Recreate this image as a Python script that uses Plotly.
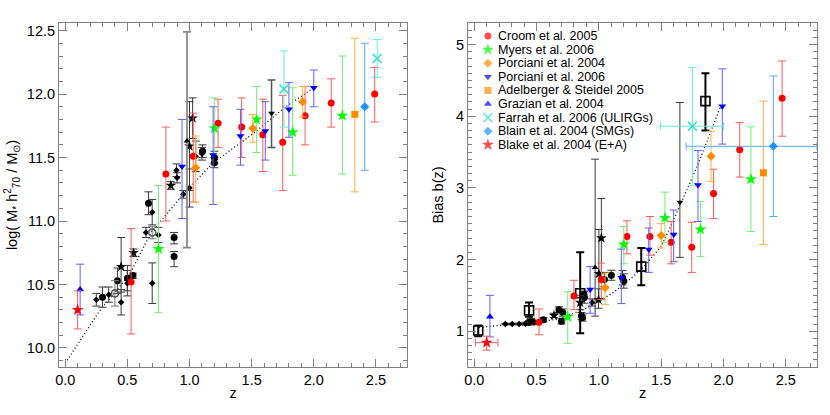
import plotly.graph_objects as go

# ---------------- DATA ----------------
# Croom et al. 2005 (red circles)
croom_z_m = [0.53, 0.81, 1.03, 1.23, 1.42, 1.59, 1.75, 1.93, 2.14, 2.49]
croom_m = [10.52, 11.37, 11.51, 11.77, 11.74, 11.68, 11.62, 11.83, 11.93, 12.00]
croom_m_lo = [0.41, 0.37, 0.36, 0.19, 0.24, 0.29, 0.38, 0.23, 0.19, 0.22]
croom_m_hi = [0.42, 0.37, 0.34, 0.19, 0.23, 0.28, 0.37, 0.23, 0.19, 0.21]
croom_z_b = [0.52, 0.80, 1.02, 1.225, 1.41, 1.58, 1.745, 1.92, 2.13, 2.47]
croom_b = [1.125, 1.49, 1.72, 2.32, 2.32, 2.24, 2.17, 2.92, 3.53, 4.25]
croom_b_lo = [0.175, 0.19, 0.28, 0.24, 0.26, 0.30, 0.35, 0.35, 0.38, 0.53]
croom_b_hi = [0.185, 0.22, 0.23, 0.22, 0.28, 0.29, 0.35, 0.34, 0.38, 0.52]

# Myers et al. 2006 (green stars)
myers_z_m = [0.75, 1.20, 1.54, 1.83, 2.23]
myers_m = [10.78, 11.73, 11.80, 11.70, 11.83]
myers_m_lo = [0.50, 0.20, 0.26, 0.34, 0.46]
myers_m_hi = [0.50, 0.24, 0.26, 0.35, 0.47]
myers_z_b = [0.75, 1.20, 1.53, 1.815, 2.22]
myers_b = [1.20, 2.21, 2.58, 2.42, 3.12]
myers_b_lo = [0.37, 0.27, 0.34, 0.38, 0.73]
myers_b_hi = [0.35, 0.25, 0.36, 0.39, 0.73]

# Porciani et al. 2004 (orange diamonds)
porc04_z_m = [1.05, 1.51, 1.91]
porc04_m = [11.42, 11.73, 11.94]
porc04_m_lo = [0.27, 0.11, 0.12]
porc04_m_hi = [0.25, 0.11, 0.12]
porc04_z_b = [1.05, 1.50, 1.90]
porc04_b = [1.605, 2.335, 3.44]
porc04_b_lo = [0.235, 0.175, 0.35]
porc04_b_hi = [0.205, 0.165, 0.35]

# Porciani et al. 2006 (blue down triangles)
porc06_z_m = [0.94, 1.19, 1.41, 1.61, 1.80, 2.00]
porc06_m = [11.43, 11.52, 11.67, 11.71, 11.88, 12.05]
porc06_m_lo = [0.41, 0.39, 0.23, 0.23, 0.22, 0.15]
porc06_m_hi = [0.37, 0.38, 0.21, 0.23, 0.21, 0.14]
porc06_z_b = [0.93, 1.18, 1.40, 1.60, 1.795, 1.99]
porc06_b = [1.58, 1.745, 2.14, 2.35, 3.04, 4.14]
porc06_b_lo = [0.33, 0.36, 0.32, 0.38, 0.51, 0.53]
porc06_b_hi = [0.32, 0.40, 0.30, 0.34, 0.48, 0.52]

# Adelberger & Steidel 2005 (orange square)
adel_z_m = [2.33]
adel_m = [11.84]
adel_m_lo = [0.61]
adel_m_hi = [0.60]
adel_z_b = [2.32]
adel_b = [3.21]
adel_b_lo = [1.00]
adel_b_hi = [1.00]

# Grazian et al. 2004 (blue triangle)
graz_z_m = [0.12]
graz_m = [10.46]
graz_m_lo = [0.20]
graz_m_hi = [0.20]
graz_z_b = [0.126]
graz_b = [1.20]
graz_b_lo = [0.28]
graz_b_hi = [0.30]

# Farrah et al. 2006 (ULIRGs)
farr_z_m = [1.76, 2.51]
farr_m = [12.04, 12.28]
farr_m_lo = [0.30, 0.15]
farr_m_hi = [0.30, 0.15]
farr_z_b = [1.75]
farr_b = [3.86]
farr_b_lo = [0.83]
farr_b_hi = [0.82]
farr_zerr_lo = [0.255]
farr_zerr_hi = [0.25]

# Blain et al. 2004 (SMGs)
blain_z_m = [2.41]
blain_m = [11.90]
blain_m_lo = [0.50]
blain_m_hi = [0.50]
blain_z_b = [2.40]
blain_b = [3.58]
blain_b_lo = [0.98]
blain_b_hi = [0.98]
blain_zerr_lo = [0.70]
blain_zerr_hi = [0.70]

# Blake et al. 2004 (E+A)
blake_z_m = [0.10]
blake_m = [10.30]
blake_m_lo = [0.15]
blake_m_hi = [0.15]
blake_z_b = [0.10]
blake_b = [0.84]
blake_b_lo = [0.105]
blake_b_hi = [0.09]
blake_zerr_lo = [0.09]
blake_zerr_hi = [0.09]

# Black comparison samples, left panel (stellar mass)
bkm_circ_z = [0.30, 0.42, 0.50, 0.545, 0.67, 0.876, 0.876, 1.105, 1.20, 1.20]
bkm_circ_m = [10.40, 10.53, 10.55, 10.57, 11.14, 10.87, 10.72, 11.55, 11.50, 11.46]
bkm_circ_lo = [0.08, 0.10, 0.10, 0.02, 0.09, 0.05, 0.08, 0.05, 0.05, 0.04]
bkm_circ_hi = [0.08, 0.10, 0.10, 0.02, 0.09, 0.04, 0.04, 0.05, 0.05, 0.04]
bkm_small_z = [0.25, 0.35, 0.45, 0.50, 0.65, 0.70, 0.75, 0.70, 0.895, 0.90, 0.95, 1.00, 1.05, 1.10]
bkm_small_m = [10.38, 10.42, 10.36, 10.51, 10.91, 11.07, 10.89, 10.51, 11.40, 11.34, 11.21, 11.26, 11.51, 11.53]
bkm_small_lo = [0.05, 0.06, 0.10, 0.10, 0.04, 0.10, 0.06, 0.16, 0.05, 0.04, 0.03, 0.15, 0.12, 0.05]
bkm_small_hi = [0.05, 0.06, 0.10, 0.10, 0.04, 0.10, 0.06, 0.16, 0.05, 0.04, 0.03, 0.15, 0.12, 0.05]
bkm_star_z = [0.45, 0.55, 0.85, 1.00, 1.025]
bkm_star_m = [10.64, 10.75, 11.28, 11.59, 11.81]
bkm_star_lo = [0.20, 0.03, 0.03, 0.35, 0.16]
bkm_star_hi = [0.23, 0.03, 0.03, 0.35, 0.16]
bkm_tri_z = [0.98]
bkm_tri_m = [11.63]
bkm_tri_lo = [0.84]
bkm_tri_hi = [0.86]
bkm_tridn_z = [1.66]
bkm_tridn_m = [11.85]
bkm_tridn_lo = [0.27]
bkm_tridn_hi = [0.26]
bkm_open_z = [0.40, 0.70]
bkm_open_m = [10.43, 10.91]
bkm_open_lo = [0.10, 0.05]
bkm_open_hi = [0.10, 0.05]

# Black comparison samples, right panel (bias)
bkb_circ_z = [0.44, 0.555, 0.68, 0.71, 0.70, 0.86, 0.87, 0.884, 0.88, 1.045, 1.10, 1.19, 1.20]
bkb_circ_b = [1.12, 1.16, 1.30, 1.26, 1.14, 1.21, 1.19, 1.47, 1.51, 1.72, 1.78, 1.745, 1.70]
bkb_circ_lo = [0.03, 0.03, 0.04, 0.05, 0.04, 0.05, 0.05, 0.08, 0.05, 0.10, 0.07, 0.10, 0.10]
bkb_circ_hi = [0.03, 0.03, 0.04, 0.05, 0.04, 0.05, 0.05, 0.08, 0.05, 0.10, 0.07, 0.10, 0.10]
bkb_small_z = [0.25, 0.305, 0.36, 0.41, 0.48, 0.946]
bkb_small_b = [1.10, 1.10, 1.10, 1.105, 1.12, 1.40]
bkb_small_lo = [0.01, 0.01, 0.01, 0.02, 0.03, 0.05]
bkb_small_hi = [0.01, 0.01, 0.01, 0.02, 0.03, 0.05]
bkb_star_z = [0.456, 0.64, 0.85, 0.997, 1.00, 1.02]
bkb_star_b = [1.15, 1.22, 1.40, 1.44, 1.80, 2.30]
bkb_star_lo = [0.03, 0.03, 0.10, 0.12, 0.36, 0.50]
bkb_star_hi = [0.03, 0.03, 0.10, 0.15, 0.62, 0.55]
bkb_tri_z = [0.97]
bkb_tri_b = [1.89]
bkb_tri_lo = [0.68]
bkb_tri_hi = [1.51]
bkb_tridn_z = [1.65]
bkb_tridn_b = [2.80]
bkb_tridn_lo = [0.77]
bkb_tridn_hi = [1.39]
bkb_sq_z = [0.032, 0.44, 0.85, 1.34, 1.855]
bkb_sq_b = [1.01, 1.29, 1.53, 1.90, 4.21]
bkb_sq_lo = [0.08, 0.09, 0.56, 0.26, 0.41]
bkb_sq_hi = [0.07, 0.11, 0.57, 0.26, 0.39]

# Dotted model curves
model_m_z = [0.0, 0.275, 0.52, 0.69, 0.95, 1.19, 1.515, 1.76, 2.0]
model_m = [9.88, 10.29, 10.58, 10.91, 11.21, 11.46, 11.69, 11.89, 12.05]
model_b_z = [0.04, 0.2, 0.5, 0.7, 0.9, 1.0, 1.1, 1.2, 1.35, 1.5, 1.65, 1.8, 1.98]
model_b = [1.05, 1.08, 1.12, 1.18, 1.32, 1.42, 1.52, 1.65, 1.88, 2.18, 2.75, 3.35, 4.15]

legend_labels = ["Croom et al. 2005", "Myers et al. 2006", "Porciani et al. 2004",
                 "Porciani et al. 2006", "Adelberger & Steidel 2005", "Grazian et al. 2004",
                 "Farrah et al. 2006 (ULIRGs)", "Blain et al. 2004 (SMGs)", "Blake et al. 2004 (E+A)"]

Z_RANGE = [-0.05, 2.75]
M_RANGE = [9.85, 12.56]
B_RANGE = [0.5, 5.3]

# ---------------- STYLE ----------------
FONT = "Liberation Sans, Arial, Helvetica, sans-serif"
styles = {
    "croom": dict(symbol="circle", size=7, color="#ff0000", ecol="#ff5a5a"),
    "myers": dict(symbol="star", size=9, color="#00ff00", ecol="#70f070"),
    "porc04": dict(symbol="diamond", size=7, color="#ff8c00", ecol="#ffb040"),
    "porc06": dict(symbol="triangle-down", size=7, color="#0000ff", ecol="#6060ff"),
    "adel": dict(symbol="square", size=7, color="#ff8c00", ecol="#ffb040"),
    "graz": dict(symbol="triangle-up", size=7, color="#0000ff", ecol="#6060ff"),
    "farr": dict(symbol="x-thin-open", size=9, color="#30e0c8", ecol="#60f0d8"),
    "blain": dict(symbol="diamond", size=7, color="#1e90ff", ecol="#60a8ff"),
    "blake": dict(symbol="star", size=9, color="#ff0000", ecol="#ff5a5a"),
}
order = ["croom", "myers", "porc04", "porc06", "adel", "graz", "farr", "blain", "blake"]

fig = go.Figure()


def add(x, y, lo, hi, st, xa, ya, xlo=None, xhi=None, msym=None, msize=None,
        mcol=None, ecol=None, ethick=1.0):
    sym = msym or st["symbol"]
    marker = dict(symbol=sym, size=msize or st["size"], color=mcol or st["color"])
    if sym.endswith("-open"):
        marker["line"] = dict(width=1.6, color=mcol or st["color"])
    else:
        marker["line"] = dict(width=0)
    tr = dict(x=x, y=y, mode="markers", marker=marker, xaxis=xa, yaxis=ya,
              showlegend=False, hoverinfo="skip", cliponaxis=True,
              error_y=dict(type="data", symmetric=False, array=hi, arrayminus=lo,
                           color=ecol or st["ecol"], thickness=ethick, width=4))
    if xlo is not None:
        # keep horizontal bars inside the frame
        xhi_c = [min(h, Z_RANGE[1] - xv) for h, xv in zip(xhi, x)]
        xlo_c = [min(l, xv - Z_RANGE[0]) for l, xv in zip(xlo, x)]
        tr["error_x"] = dict(type="data", symmetric=False, array=xhi_c, arrayminus=xlo_c,
                             color=ecol or st["ecol"], thickness=ethick, width=4)
    fig.add_trace(go.Scatter(**tr))


DOT = dict(color="black", width=1.3, dash="1px,2.5px")
fig.add_trace(go.Scatter(x=model_m_z, y=model_m, mode="lines", xaxis="x", yaxis="y",
                         line=DOT, showlegend=False, hoverinfo="skip"))
fig.add_trace(go.Scatter(x=model_b_z, y=model_b, mode="lines", xaxis="x2", yaxis="y2",
                         line=DOT, showlegend=False, hoverinfo="skip"))

black = dict(symbol="circle", size=7, color="#000000", ecol="#3a3a3a")
# black samples left
add(bkm_circ_z, bkm_circ_m, bkm_circ_lo, bkm_circ_hi, black, "x", "y")
add(bkm_small_z, bkm_small_m, bkm_small_lo, bkm_small_hi, black, "x", "y", msym="diamond", msize=5)
add(bkm_star_z, bkm_star_m, bkm_star_lo, bkm_star_hi, black, "x", "y", msym="star", msize=8)
add(bkm_tri_z, bkm_tri_m, bkm_tri_lo, bkm_tri_hi, black, "x", "y", msym="triangle-up", msize=6,
    ecol="#8a8a8a", ethick=1.8)
add(bkm_tridn_z, bkm_tridn_m, bkm_tridn_lo, bkm_tridn_hi, black, "x", "y", msym="triangle-down",
    msize=6, ecol="#555555", ethick=1.5)
add(bkm_open_z, bkm_open_m, bkm_open_lo, bkm_open_hi, black, "x", "y", msym="circle-open",
    msize=7, mcol="#555555", ecol="#777777")
# black samples right
add(bkb_circ_z, bkb_circ_b, bkb_circ_lo, bkb_circ_hi, black, "x2", "y2")
add(bkb_small_z, bkb_small_b, bkb_small_lo, bkb_small_hi, black, "x2", "y2", msym="diamond", msize=5)
add(bkb_star_z, bkb_star_b, bkb_star_lo, bkb_star_hi, black, "x2", "y2", msym="star", msize=8)
add(bkb_tri_z, bkb_tri_b, bkb_tri_lo, bkb_tri_hi, black, "x2", "y2", msym="triangle-up", msize=6)
add(bkb_tridn_z, bkb_tridn_b, bkb_tridn_lo, bkb_tridn_hi, black, "x2", "y2", msym="triangle-down", msize=6)
add(bkb_sq_z, bkb_sq_b, bkb_sq_lo, bkb_sq_hi, black, "x2", "y2", msym="square-open", msize=9,
    mcol="#000000", ecol="#000000", ethick=2)

left = {
    "croom": (croom_z_m, croom_m, croom_m_lo, croom_m_hi),
    "myers": (myers_z_m, myers_m, myers_m_lo, myers_m_hi),
    "porc04": (porc04_z_m, porc04_m, porc04_m_lo, porc04_m_hi),
    "porc06": (porc06_z_m, porc06_m, porc06_m_lo, porc06_m_hi),
    "adel": (adel_z_m, adel_m, adel_m_lo, adel_m_hi),
    "graz": (graz_z_m, graz_m, graz_m_lo, graz_m_hi),
    "farr": (farr_z_m, farr_m, farr_m_lo, farr_m_hi),
    "blain": (blain_z_m, blain_m, blain_m_lo, blain_m_hi),
    "blake": (blake_z_m, blake_m, blake_m_lo, blake_m_hi),
}
right = {
    "croom": (croom_z_b, croom_b, croom_b_lo, croom_b_hi, None, None),
    "myers": (myers_z_b, myers_b, myers_b_lo, myers_b_hi, None, None),
    "porc04": (porc04_z_b, porc04_b, porc04_b_lo, porc04_b_hi, None, None),
    "porc06": (porc06_z_b, porc06_b, porc06_b_lo, porc06_b_hi, None, None),
    "adel": (adel_z_b, adel_b, adel_b_lo, adel_b_hi, None, None),
    "graz": (graz_z_b, graz_b, graz_b_lo, graz_b_hi, None, None),
    "farr": (farr_z_b, farr_b, farr_b_lo, farr_b_hi, farr_zerr_lo, farr_zerr_hi),
    "blain": (blain_z_b, blain_b, blain_b_lo, blain_b_hi, blain_zerr_lo, blain_zerr_hi),
    "blake": (blake_z_b, blake_b, blake_b_lo, blake_b_hi, blake_zerr_lo, blake_zerr_hi),
}
for k in order:
    x, y, lo, hi = left[k]
    add(x, y, lo, hi, styles[k], "x", "y")
    x, y, lo, hi, xlo, xhi = right[k]
    add(x, y, lo, hi, styles[k], "x2", "y2", xlo=xlo, xhi=xhi)

# ---------------- LEGEND (manual, inside right panel) ----------------
leg_mx, leg_tx, leg_top, leg_step = 0.057, 0.080, 0.962, 0.0395
n = len(order)
fig.add_trace(go.Scatter(
    x=[leg_mx] * n, y=[leg_top - i * leg_step for i in range(n)], mode="markers",
    xaxis="x3", yaxis="y3", showlegend=False, hoverinfo="skip",
    marker=dict(symbol=[styles[k]["symbol"] for k in order],
                size=[styles[k]["size"] for k in order],
                color=[styles[k]["color"] for k in order],
                line=dict(width=[1.6 if styles[k]["symbol"].endswith("-open") else 0 for k in order],
                          color=[styles[k]["color"] for k in order]))))
for i, lab in enumerate(legend_labels):
    fig.add_annotation(x=leg_tx, y=leg_top - i * leg_step, xref="x3", yref="y3", text=lab,
                       showarrow=False, xanchor="left", yanchor="middle",
                       font=dict(family=FONT, size=12.5, color="black"))

# ---------------- LAYOUT ----------------
W, H = 830, 415
ml, mr, mt, mb = 59, 13, 23, 48
pw = W - ml - mr
d1 = [0, (407 - ml) / pw]
d2 = [(468 - ml) / pw, 1]

axcommon = dict(showline=True, linecolor="#808080", linewidth=1, mirror="ticks",
                ticks="inside", ticklen=8, tickwidth=1, tickcolor="#808080",
                showgrid=False, zeroline=False, automargin=False,
                tickfont=dict(family=FONT, size=14.5, color="black"),
                minor=dict(ticks="inside", ticklen=4, tickcolor="#808080", showgrid=False))

fig.update_layout(
    template="none",
    width=W, height=H, margin=dict(l=ml, r=mr, t=mt, b=mb, autoexpand=False),
    plot_bgcolor="white", paper_bgcolor="white",
    font=dict(family=FONT, color="black"),
    xaxis=dict(domain=d1, range=Z_RANGE, tick0=0, dtick=0.5, tickformat=".1f",
               minor_dtick=0.1, anchor="y",
               title=dict(text="z", font=dict(family=FONT, size=14.5), standoff=0), **axcommon),
    yaxis=dict(domain=[0, 1], range=M_RANGE, tick0=10, dtick=0.5, tickformat=".1f",
               minor_dtick=0.1, anchor="x",
               title=dict(text="log( M<sub>*</sub> h<sup>2</sup><sub>70</sub> / M<sub>⊙</sub>)",
                          font=dict(family=FONT, size=14.5), standoff=5), **axcommon),
    xaxis2=dict(domain=d2, range=Z_RANGE, tick0=0, dtick=0.5, tickformat=".1f",
                minor_dtick=0.1, anchor="y2",
                title=dict(text="z", font=dict(family=FONT, size=14.5), standoff=0), **axcommon),
    yaxis2=dict(domain=[0, 1], range=B_RANGE, tick0=1, dtick=1, minor_dtick=0.1, anchor="x2",
                title=dict(text="Bias b(z)", font=dict(family=FONT, size=14.5), standoff=8),
                **axcommon),
    xaxis3=dict(domain=d2, range=[0, 1], overlaying="x2", visible=False, anchor="y3"),
    yaxis3=dict(domain=[0, 1], range=[0, 1], overlaying="y2", visible=False, anchor="x3"),
)

# remove the browser's default page margin so the figure sits at the window origin
fig.write_html("out.html", config={"displayModeBar": False},
               post_script="document.body.style.margin='0';document.body.style.overflow='hidden';")
